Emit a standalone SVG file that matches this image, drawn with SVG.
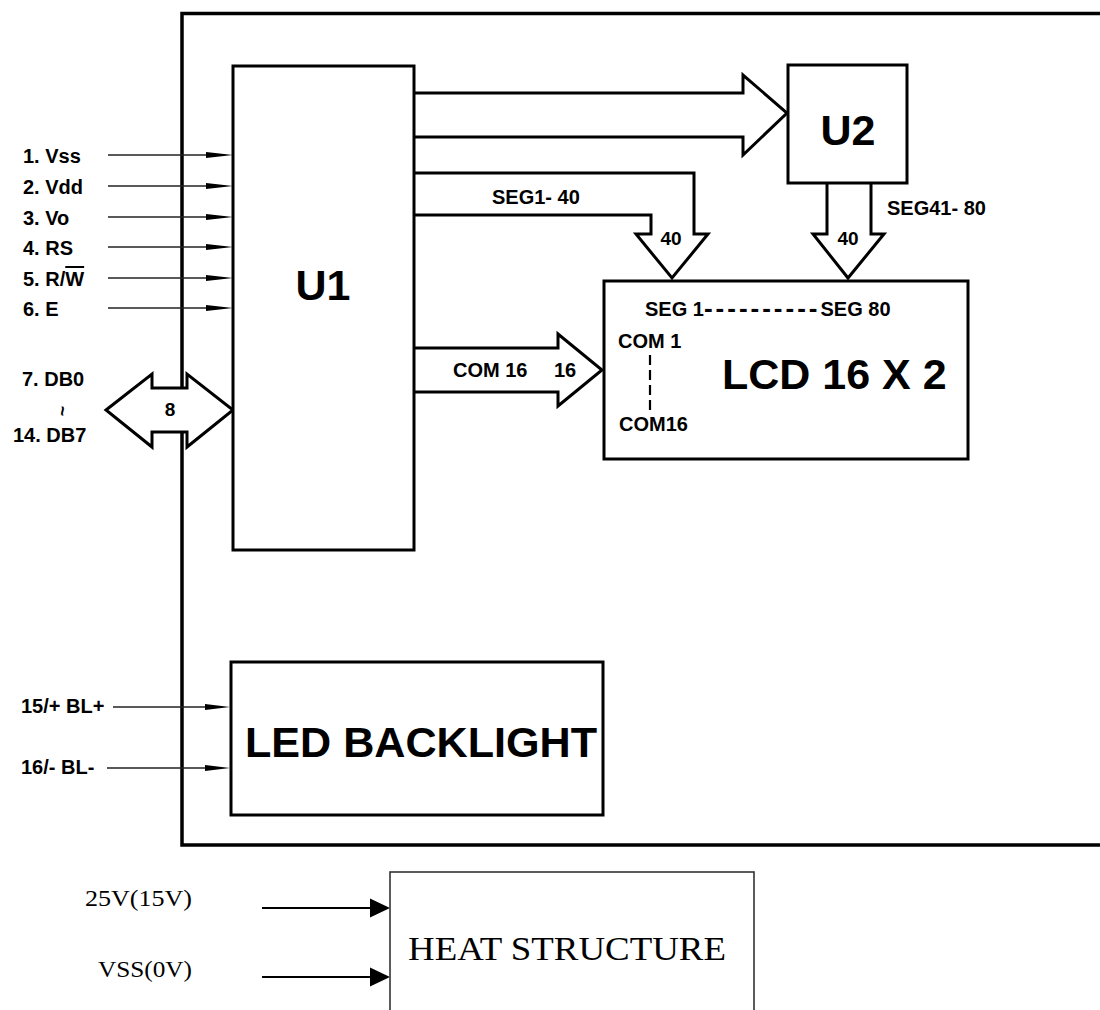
<svg xmlns="http://www.w3.org/2000/svg" width="1100" height="1010" viewBox="0 0 1100 1010">
<style>
.box{fill:#fff;stroke:#000;stroke-width:3}
.bus{fill:#fff;stroke:#000;stroke-width:3;stroke-linejoin:miter}
.pin{stroke:#222;stroke-width:1.4;fill:none}
.head{fill:#000}
.lbl{font-family:"Liberation Sans",Arial,sans-serif;font-weight:bold;font-size:20px;fill:#000}
.big{font-family:"Liberation Sans",Arial,sans-serif;font-weight:bold;font-size:43px;fill:#000}
.ser{font-family:"Liberation Serif","Times New Roman",serif;fill:#000}
</style>
<rect width="1100" height="1010" fill="#fff"/>
<g id="module">
<rect x="182" y="13.5" width="1000" height="831.5" fill="none" stroke="#000" stroke-width="3.5"/>
</g>
<g id="connectors">
<g id="pins">
<line class="pin" x1="108" y1="155" x2="210" y2="155"/><polygon class="head" points="206,152 233,155 206,158"/>
<line class="pin" x1="108" y1="186" x2="210" y2="186"/><polygon class="head" points="206,183 233,186 206,189"/>
<line class="pin" x1="108" y1="217" x2="210" y2="217"/><polygon class="head" points="206,214 233,217 206,220"/>
<line class="pin" x1="108" y1="247" x2="210" y2="247"/><polygon class="head" points="206,244 233,247 206,250"/>
<line class="pin" x1="108" y1="278" x2="210" y2="278"/><polygon class="head" points="206,275 233,278 206,281"/>
<line class="pin" x1="108" y1="308" x2="210" y2="308"/><polygon class="head" points="206,305 233,308 206,311"/>
<line class="pin" x1="113" y1="707" x2="208" y2="707"/><polygon class="head" points="205,704 230,707 205,710"/>
<line class="pin" x1="107" y1="768" x2="208" y2="768"/><polygon class="head" points="205,765 230,768 205,771"/>
</g>
<path id="db-bus" class="bus" d="M106,410 L152,374 V388 H187 V374 L233,410 L187,447 V432 H152 V447 Z"/>
<path id="u2-bus" class="bus" d="M414,93 H743 V75 L787,113 L743,155 V137 H414"/>
<path id="seg1-bus" class="bus" d="M414,173 H694 V234 H708 L672,278 L636,234 H651 V215 H414"/>
<path id="seg41-bus" class="bus" d="M827,183 V234 H813 L848,278 L884,234 H871 V183"/>
<path id="com-bus" class="bus" d="M414,348 H558 V334 L602,370 L558,406 V392 H414"/>
<g id="heat-arrows">
<line x1="262" y1="908" x2="374" y2="908" stroke="#000" stroke-width="2"/><polygon class="head" points="370,898.5 390,908 370,917.5"/>
<line x1="262" y1="977" x2="374" y2="977" stroke="#000" stroke-width="2"/><polygon class="head" points="370,967.5 390,977 370,986.5"/>
</g>
</g>
<g id="pin-labels" class="lbl">
<text x="23" y="163">1. Vss</text>
<text x="23" y="194">2. Vdd</text>
<text x="23" y="225">3. Vo</text>
<text x="23" y="255">4. RS</text>
<text x="23" y="286">5. R/<tspan style="text-decoration:overline">W</tspan></text>
<text x="23" y="316">6. E</text>
<text x="22" y="386">7. DB0</text>
<text x="0" y="0" transform="translate(62,411) rotate(90)" text-anchor="middle" dominant-baseline="central" font-size="18">~</text>
<text x="13" y="442">14. DB7</text>
<text x="21" y="713">15/+  BL+</text>
<text x="21" y="774">16/-  BL-</text>
<text x="170" y="416" text-anchor="middle" font-size="19">8</text>
</g>
<g id="U1">
<rect class="box" x="233" y="66" width="181" height="484"/>
<text class="big" x="323" y="300" text-anchor="middle">U1</text>
</g>
<g id="U2">
<rect class="box" x="788" y="65" width="119" height="118"/>
<text class="big" x="848" y="145" text-anchor="middle">U2</text>
</g>
<g id="bus-labels" class="lbl">
<text x="492" y="204">SEG1- 40</text>
<text x="671" y="245" text-anchor="middle" font-size="19">40</text>
<text x="848" y="245" text-anchor="middle" font-size="19">40</text>
<text x="887" y="215">SEG41- 80</text>
<text x="453" y="377">COM 16</text>
<text x="554" y="377">16</text>
</g>
<g id="LCD">
<rect class="box" x="604" y="281" width="364" height="178"/>
<text class="lbl" x="645" y="316">SEG 1<tspan font-size="26" letter-spacing="3" dy="1">----------</tspan><tspan dy="-1">SEG 80</tspan></text>
<text class="lbl" x="618" y="348">COM 1</text>
<line x1="650" y1="355" x2="650" y2="410" stroke="#000" stroke-width="2.2" stroke-dasharray="10,5"/>
<text class="lbl" x="619" y="431">COM16</text>
<text class="big" x="722" y="389" font-size="44">LCD 16 X 2</text>
</g>
<g id="LED">
<rect class="box" x="231" y="662" width="372" height="153"/>
<text class="big" x="245" y="757" font-size="41" textLength="352" lengthAdjust="spacingAndGlyphs">LED BACKLIGHT</text>
</g>
<g id="HEAT">
<rect x="390" y="872" width="364" height="200" fill="#fff" stroke="#333" stroke-width="1.6"/>
<text class="ser" x="408" y="960" font-size="34" textLength="318" lengthAdjust="spacingAndGlyphs">HEAT STRUCTURE</text>
</g>
<g id="heat-labels" class="ser" font-size="24">
<text x="85" y="906" textLength="107" lengthAdjust="spacingAndGlyphs">25V(15V)</text>
<text x="98" y="977" textLength="94" lengthAdjust="spacingAndGlyphs">VSS(0V)</text>
</g>
</svg>
